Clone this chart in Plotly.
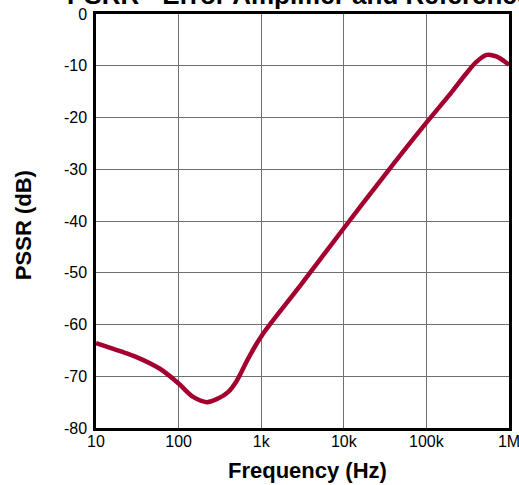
import plotly.graph_objects as go

freq_hz = [10, 20, 30, 60, 100, 150, 220, 300, 400, 500, 700, 1000, 3000, 10000,
           30000, 100000, 200000, 300000, 400000, 537000, 700000, 1000000]
psrr_db = [-63.6, -65.2, -66.2, -68.6, -71.4, -74.0, -75.0, -74.3, -73.0, -71.0, -66.5,
           -62.3, -52.4, -41.4, -31.5, -21.0, -15.2, -11.6, -9.3, -7.9, -8.2, -9.8]

x_tickvals = [10, 100, 1000, 10000, 100000, 1000000]
x_ticktext = ["10", "100", "1k", "10k", "100k", "1M"]
y_tickvals = [0, -10, -20, -30, -40, -50, -60, -70, -80]
y_ticktext = ["0", "-10", "-20", "-30", "-40", "-50", "-60", "-70", "-80"]

font = "Liberation Sans, Arial, sans-serif"

fig = go.Figure()
fig.add_trace(go.Scatter(
    x=freq_hz, y=psrr_db, mode="lines",
    line=dict(color="#A3002F", width=4.5, shape="spline", smoothing=0.9),
    showlegend=False,
))

fig.update_layout(
    width=519, height=485,
    margin=dict(l=96, r=10, t=14, b=57),
    paper_bgcolor="white", plot_bgcolor="white",
    font=dict(family=font, size=16, color="black"),
    annotations=[
        dict(text="<b>PSRR - Error Amplifier and Reference</b>",
             x=0.4915, xref="paper", y=1, yref="paper", yshift=2,
             xanchor="center", yanchor="bottom", showarrow=False,
             font=dict(family=font, size=26, color="black")),
        dict(text="<b>Frequency (Hz)</b>",
             x=0.513, xref="paper", y=0, yref="paper", yshift=-42,
             xanchor="center", yanchor="middle", showarrow=False,
             font=dict(family=font, size=22, color="black")),
        dict(text="<b>PSSR (dB)</b>", textangle=-90,
             x=0, xref="paper", xshift=-73, y=0.49, yref="paper",
             xanchor="center", yanchor="middle", showarrow=False,
             font=dict(family=font, size=22, color="black")),
    ],
)

fig.update_xaxes(
    type="log", range=[1, 6], automargin=False,
    tickvals=x_tickvals, ticktext=x_ticktext, ticklabeloverflow="allow",
    showgrid=True, gridcolor="#707070", gridwidth=1,
    showline=True, linecolor="black", linewidth=2.5, mirror=True,
    ticks="", ticklen=0, tickfont=dict(size=16), ticklabelstandoff=-3,
    zeroline=False,
)
fig.update_yaxes(
    range=[-80, 0], automargin=False,
    tickvals=y_tickvals, ticktext=y_ticktext, ticklabeloverflow="allow",
    showgrid=True, gridcolor="#707070", gridwidth=1,
    showline=True, linecolor="black", linewidth=2.5, mirror=True,
    ticks="", ticklen=0, tickfont=dict(size=16), ticklabelstandoff=3,
    zeroline=False,
)

fig.write_html("out.html", config={"displayModeBar": False},
               post_script="document.body.style.margin='0';document.body.style.padding='0';document.body.style.overflow='hidden';")
